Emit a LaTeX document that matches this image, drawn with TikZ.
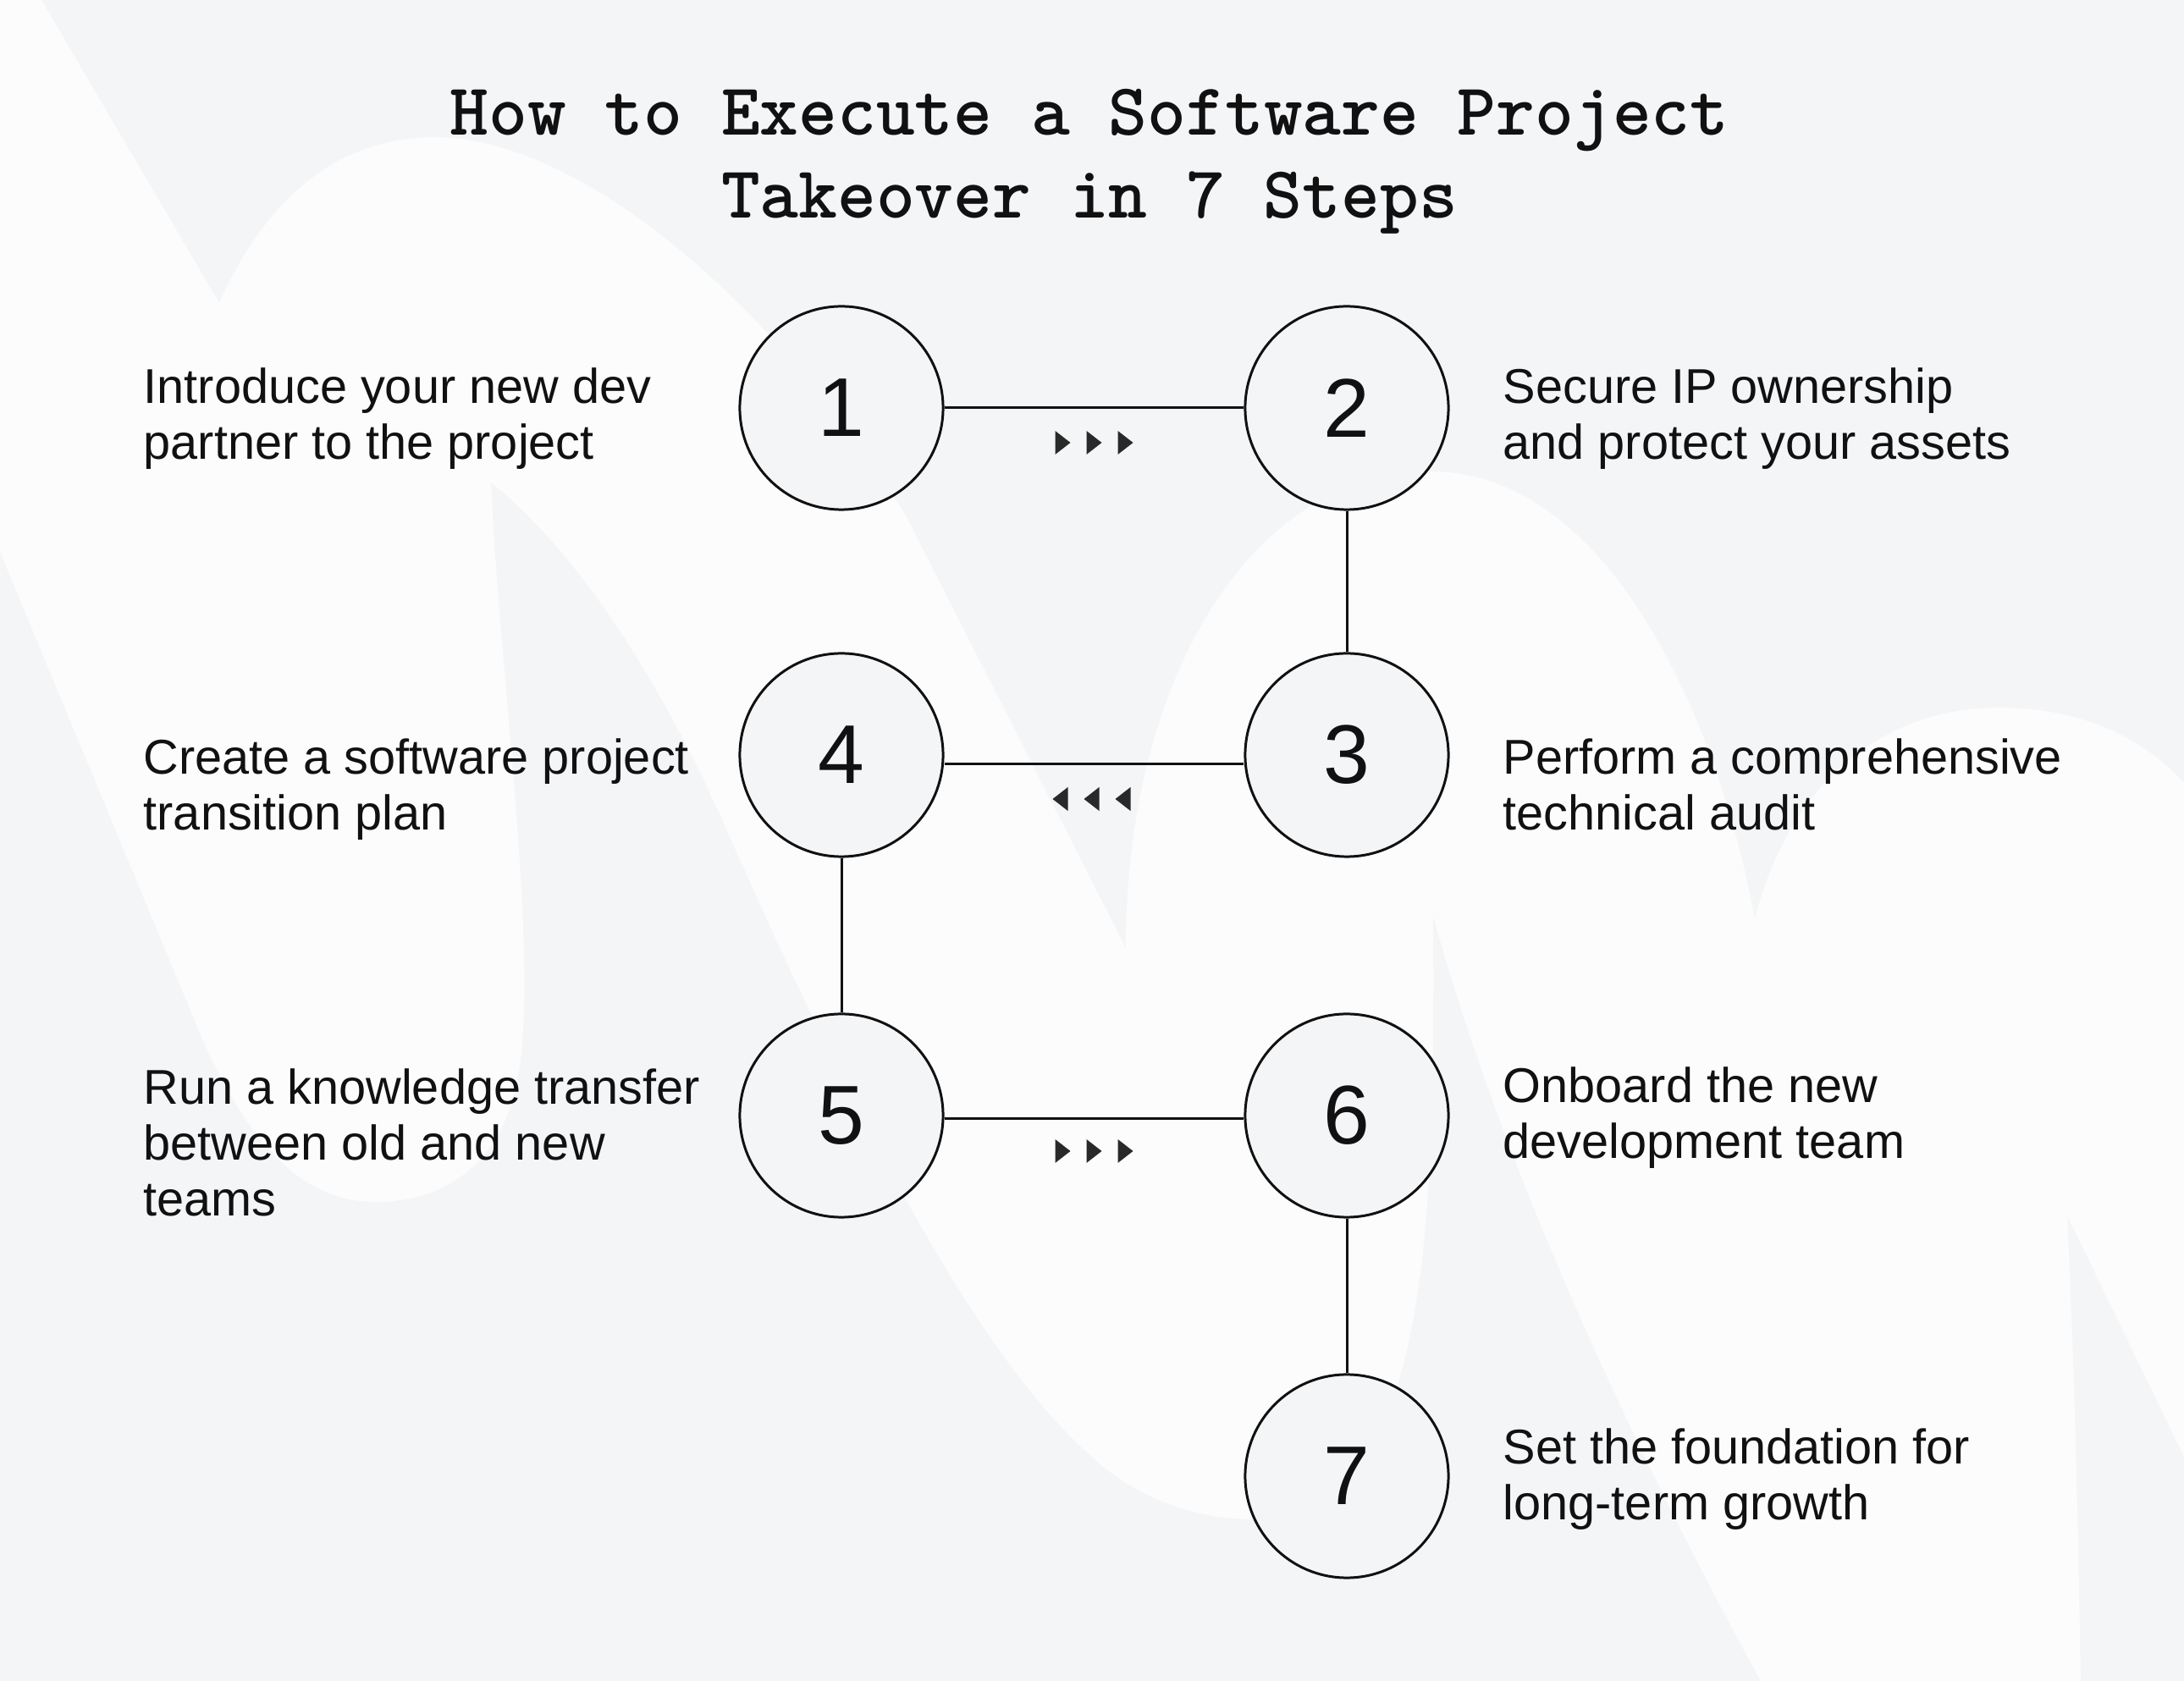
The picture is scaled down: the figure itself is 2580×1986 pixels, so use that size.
\documentclass[tikz,border=0pt]{standalone}
\usepackage{fontspec}
\setmainfont{Liberation Sans}
\usetikzlibrary{calc}

\definecolor{bggrey}{HTML}{F4F5F7}
\definecolor{logowhite}{HTML}{FCFCFC}
\definecolor{ink}{HTML}{111111}

\tikzset{
  stepcircle/.style={circle, draw=ink, line width=0.85pt, fill=bggrey, minimum size=2.4cm, inner sep=0pt,
    text=ink, font=\fontsize{28}{30}\selectfont},
  link/.style={draw=ink, line width=0.85pt},
  desc/.style={anchor=base west, align=left, inner sep=0pt, text=ink, font=\fontsize{16.4}{18.8}\selectfont},
  tipfill/.style={fill=ink!90}
}

\begin{document}
\begin{tikzpicture}[x=0.01cm, y=-0.01cm]
		%canvas
		\useasboundingbox (0,0) rectangle (2580,1986);
		\fill[bggrey] (0,0) rectangle (2580,1986);
		
		%faint logo in the background
		\fill[logowhite] (0,0) -- (49,0) -- (259,358)
		  .. controls (330,200) and (430,162) .. (515,162)
		  .. controls (700,165) and (930,380) .. (1070,609)
		  -- (1330,1120)
		  .. controls (1330,800) and (1480,557) .. (1690,557)
		  .. controls (1900,557) and (2030,850) .. (2073,1086)
		  .. controls (2120,900) and (2250,836) .. (2360,836)
		  .. controls (2470,836) and (2540,880) .. (2580,925)
		  -- (2580,1721) -- (2442,1436)
		  .. controls (2450,1600) and (2455,1800) .. (2458,1986)
		  -- (2080,1986)
		  .. controls (1950,1750) and (1780,1400) .. (1693,1082)
		  .. controls (1695,1450) and (1690,1795) .. (1480,1795)
		  .. controls (1400,1795) and (1330,1760) .. (1290,1721)
		  .. controls (1150,1600) and (1000,1300) .. (864,993)
		  .. controls (780,800) and (680,650) .. (580,570)
		  .. controls (590,800) and (640,1150) .. (610,1280)
		  .. controls (590,1380) and (520,1420) .. (444,1420)
		  .. controls (350,1420) and (290,1340) .. (240,1230)
		  -- (0,652) -- cycle;
		
		%title (base = last line)
		\node[anchor=base, align=center, inner sep=0pt, text=ink,
		  font=\ttfamily\bfseries\fontsize{24.8}{27.9}\selectfont] (title) at (1287,258)
		  {How to Execute a Software Project\\Takeover in 7 Steps};
		
		%steps
		\node[stepcircle] (c1) at (994,482) {1};
		\node[stepcircle] (c2) at (1591,482) {2};
		\node[stepcircle] (c3) at (1591,892) {3};
		\node[stepcircle] (c4) at (994,892) {4};
		\node[stepcircle] (c5) at (994,1318) {5};
		\node[stepcircle] (c6) at (1591,1318) {6};
		\node[stepcircle] (c7) at (1591,1744) {7};
		
		%connectors
		\draw[link] (c1) -- (c2);
		\draw[link] (c2) -- (c3);
		\draw[link] ([yshift=-0.11cm]c3.west) -- ([yshift=-0.11cm]c4.east);
		\draw[link] (c4) -- (c5);
		\draw[link] ([yshift=-0.04cm]c5.east) -- ([yshift=-0.04cm]c6.west);
		\draw[link] (c6) -- (c7);
		
		%direction marks
		\coordinate (m12) at ($($(c1)!0.5!(c2)$)+(0,41)$);
		\coordinate (m34) at ($($(c3)!0.5!(c4)$)+(-3,52)$);
		\coordinate (m56) at ($($(c5)!0.5!(c6)$)+(0,42)$);
		\foreach \dx in {-37,0,37} {
		  \fill[tipfill] ($(m12)+(\dx-9,-14)$) -- ++(0,28) -- ++(18,-14) -- cycle;
		  \fill[tipfill] ($(m34)+(\dx+9,-14)$) -- ++(0,28) -- ++(-18,-14) -- cycle;
		  \fill[tipfill] ($(m56)+(\dx-9,-14)$) -- ++(0,28) -- ++(18,-14) -- cycle;
		}
		
		%descriptions (placed at the baseline of their last line)
		\node[desc] (t1) at (169,543) {Introduce your new dev\\partner to the project};
		\node[desc] (t2) at (1775,543) {Secure IP ownership\\and protect your assets};
		\node[desc] (t3) at (1775,981) {Perform a comprehensive\\technical audit};
		\node[desc] (t4) at (169,981) {Create a software project\\transition plan};
		\node[desc] (t5) at (169,1437) {Run a knowledge transfer\\between old and new\\teams};
		\node[desc] (t6) at (1775,1369) {Onboard the new\\development team};
		\node[desc] (t7) at (1775,1796) {Set the foundation for\\long-term growth};
		
\end{tikzpicture}
\end{document}
